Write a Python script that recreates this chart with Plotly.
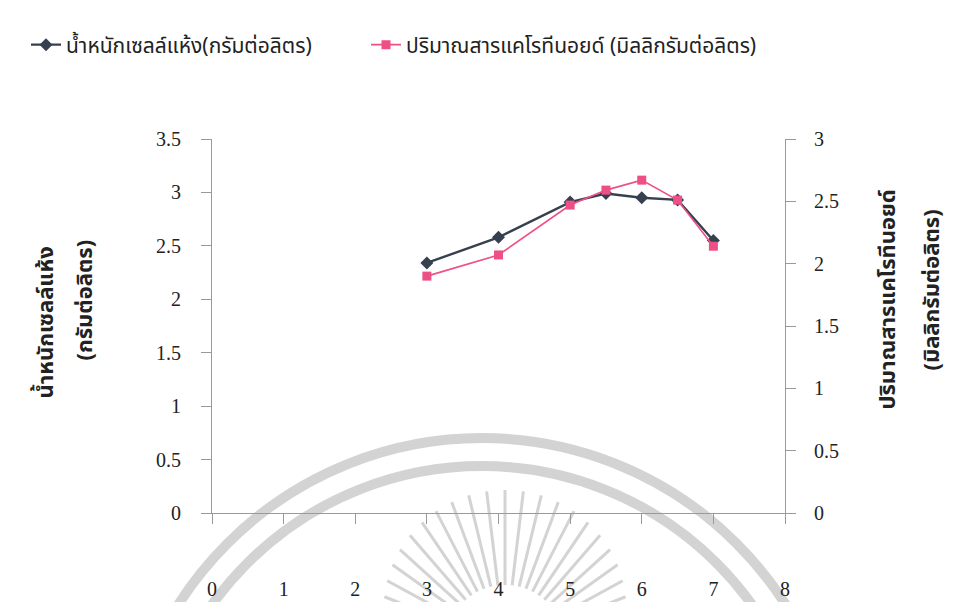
import math
import plotly.graph_objects as go

# Culture time (x) and measured values
time_points = [3, 4, 5, 5.5, 6, 6.5, 7]
dry_cell_weight = [2.34, 2.58, 2.91, 2.99, 2.95, 2.93, 2.55]      # g/L, left axis
carotenoid = [1.90, 2.07, 2.47, 2.59, 2.67, 2.51, 2.14]           # mg/L, right axis

x_ticks = [0, 1, 2, 3, 4, 5, 6, 7, 8]
left_ticks = [0, 0.5, 1, 1.5, 2, 2.5, 3, 3.5]
right_ticks = [0, 0.5, 1, 1.5, 2, 2.5, 3]

name_dcw = "น้ำหนักเซลล์แห้ง(กรัมต่อลิตร)"
name_car = "ปริมาณสารแคโรทีนอยด์ (มิลลิกรัมต่อลิตร)"

W, H = 964, 602
ML, MR, MT, MB = 212, 179, 139, 89
PW, PH = W - ML - MR, H - MT - MB

THAI = "Noto Sans Thai, Loma, Garuda, Tahoma, DejaVu Sans, sans-serif"
SERIF = "Liberation Serif, Times New Roman, serif"
DARK = "#36404f"
PINK = "#ee4f86"
TEXT = "#222222"


def px(x):
    return (x - ML) / PW


def py(y):
    return (H - MB - y) / PH


fig = go.Figure()
fig.add_trace(go.Scatter(
    x=time_points, y=dry_cell_weight, name=name_dcw, mode="lines+markers",
    legend="legend",
    line=dict(color=DARK, width=2.4),
    marker=dict(symbol="diamond", size=10, color=DARK),
))
fig.add_trace(go.Scatter(
    x=time_points, y=carotenoid, name=name_car, mode="lines+markers",
    yaxis="y2", legend="legend2",
    line=dict(color=PINK, width=1.6),
    marker=dict(symbol="square", size=9, color=PINK),
))

# faint emblem in the background
shapes = []
WM = "rgba(175,175,175,0.55)"
cx, cy = 482, 798
for r in (360, 332):
    shapes.append(dict(type="circle", xref="paper", yref="paper", layer="below",
                       x0=px(cx - r), x1=px(cx + r), y0=py(cy + r), y1=py(cy - r),
                       line=dict(color=WM, width=10)))
rcx, rcy = 505, 645
n_rays = 23
for i in range(n_rays):
    a = math.radians(15 + 150 * i / (n_rays - 1))
    r0, r1 = 60, 115 + 40 * math.sin(a)
    shapes.append(dict(type="line", xref="paper", yref="paper", layer="below",
                       x0=px(rcx + r0 * math.cos(a)), y0=py(rcy - r0 * math.sin(a)),
                       x1=px(rcx + r1 * math.cos(a)), y1=py(rcy - r1 * math.sin(a)),
                       line=dict(color=WM, width=3)))

title_font = dict(family=THAI, size=22, color=TEXT)
annotations = [
    dict(text="<b>น้ำหนักเซลล์แห้ง</b>", textangle=-90, xref="paper", yref="paper",
         x=px(27), y=py(322), showarrow=False, font=title_font),
    dict(text="<b>(กรัมต่อลิตร)</b>", textangle=-90, xref="paper", yref="paper",
         x=px(66), y=py(300), showarrow=False, font=title_font),
    dict(text="<b>ปริมาณสารแคโรทีนอยด์</b>", textangle=-90, xref="paper", yref="paper",
         x=px(906), y=py(300), showarrow=False, font=title_font),
    dict(text="<b>(มิลลิกรัมต่อลิตร)</b>", textangle=-90, xref="paper", yref="paper",
         x=px(950), y=py(290), showarrow=False, font=title_font),
]

axis_common = dict(showgrid=False, zeroline=False, showline=True, linecolor="#9a9a9a",
                   linewidth=1.2, ticks="outside", ticklen=10, tickcolor="#9a9a9a",
                   automargin=False,
                   tickfont=dict(family=SERIF, size=20, color=TEXT))

legend_common = dict(orientation="h", xref="container", yref="container",
                     xanchor="left", yanchor="middle",
                     font=dict(family=THAI, size=21, color=TEXT),
                     bgcolor="rgba(0,0,0,0)")

fig.update_layout(
    width=W, height=H,
    margin=dict(l=ML, r=MR, t=MT, b=MB, autoexpand=False),
    paper_bgcolor="white", plot_bgcolor="white",
    xaxis=dict(range=[0, 8], tickvals=x_ticks, ticklabelstandoff=48, **axis_common),
    yaxis=dict(range=[0, 3.5], tickvals=left_ticks, ticklabelstandoff=16, **axis_common),
    yaxis2=dict(range=[0, 3], tickvals=right_ticks, overlaying="y", side="right",
                ticklabelstandoff=14, **axis_common),
    legend=dict(x=26 / W, y=1 - 45 / H, **legend_common),
    legend2=dict(x=366 / W, y=1 - 45 / H, **legend_common),
    shapes=shapes,
    annotations=annotations,
    showlegend=True,
)

fig.write_html("out.html")
